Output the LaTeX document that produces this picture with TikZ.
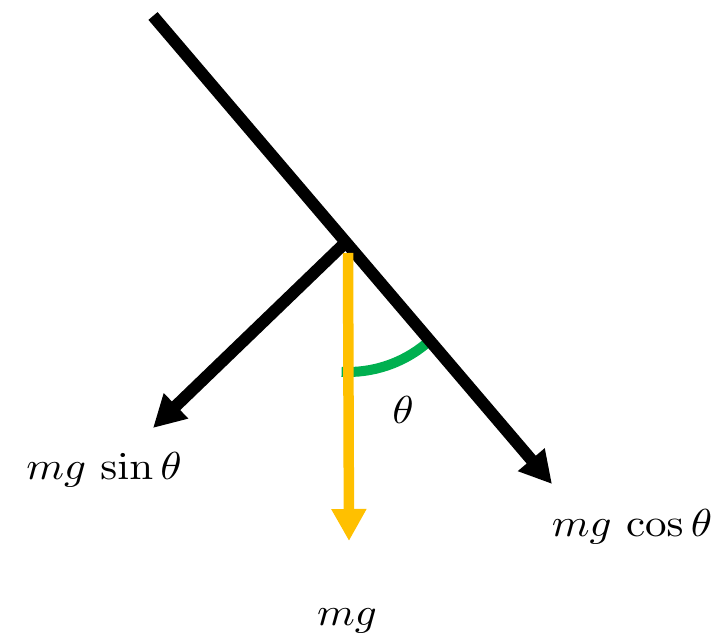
\documentclass[tikz,border=0pt]{standalone}
\usetikzlibrary{arrows.meta}
\definecolor{gold}{HTML}{FFC000}
\definecolor{okgreen}{HTML}{00B050}
\begin{document}
\begin{tikzpicture}[x=1pt,y=-1pt,
  vec/.style={line width=12pt,-{Triangle[length=32pt,width=33pt]}},
  lbl/.style={xscale=4.3,yscale=3.9, inner sep=0pt}]
\useasboundingbox (0,0) rectangle (728,644);
\coordinate (top) at (153,16);
\coordinate (P) at (345,243);
\coordinate (tipR) at (552,484);
\coordinate (tipL) at (153,428);
\coordinate (Ytop) at (348,253);
\coordinate (tipY) at (349,541);
% angle arc
\draw[okgreen,line width=10pt] (348,250) ++(93:122) arc[start angle=93,end angle=50,radius=122];
% main incline line with arrow
\draw[vec] (top) -- (tipR);
% left component
\draw[vec] (P) -- (tipL);
% gravity
\draw[vec,gold,line width=10.5pt] (Ytop) -- (tipY);
\node[lbl] (th) at (403,410) {$\theta$};
\node[lbl] (Ls) at (104,470) {$mg\,\sin\theta$};
\node[lbl] (Lc) at (632,527) {$mg\,\cos\theta$};
\node[lbl] (Lg) at (347,621) {$mg$};
\end{tikzpicture}
\end{document}
